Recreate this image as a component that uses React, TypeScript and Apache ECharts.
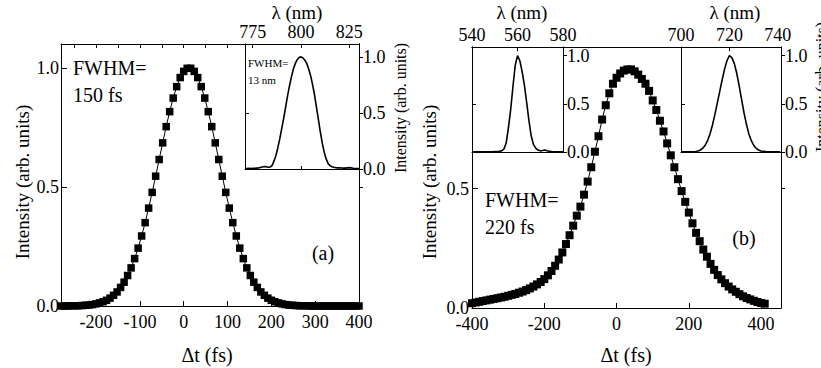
import React, { useEffect, useRef } from "react";
import * as echarts from "echarts";

const FONT = "Liberation Serif, Times New Roman, serif";
const INK = "#000";

// ---------- Panel (a): intensity autocorrelation vs delay ----------
const delayA = [
  -280, -272, -264, -256, -248, -240, -232, -224, -216, -208, -200, -192, -184, -176, -168, -160,
  -152, -144, -136, -128, -120, -112, -104, -96, -88, -80, -72, -64, -56, -48, -40, -32, -24, -16,
  -8, 0, 8, 16, 24, 32, 40, 48, 56, 64, 72, 80, 88, 96, 104, 112, 120, 128, 136, 144, 152, 160,
  168, 176, 184, 192, 200, 208, 216, 224, 232, 240, 248, 256, 264, 272, 280, 288, 296, 304, 312,
  320, 328, 336, 344, 352, 360, 368, 376, 384, 392, 400,
];
const intensityA = [
  0.0, 0.0, 0.0, 0.001, 0.001, 0.001, 0.002, 0.003, 0.004, 0.006, 0.009, 0.013, 0.018, 0.024, 0.033,
  0.045, 0.059, 0.078, 0.1, 0.128, 0.16, 0.199, 0.243, 0.294, 0.35, 0.411, 0.477, 0.545, 0.615, 0.685,
  0.753, 0.816, 0.873, 0.921, 0.959, 0.985, 0.998, 0.998, 0.985, 0.959, 0.921, 0.873, 0.816, 0.753,
  0.685, 0.615, 0.545, 0.477, 0.411, 0.35, 0.294, 0.243, 0.199, 0.16, 0.128, 0.1, 0.078, 0.059, 0.045,
  0.033, 0.024, 0.018, 0.013, 0.009, 0.006, 0.004, 0.003, 0.002, 0.001, 0.001, 0.001, 0.0, 0.0, 0.0,
  0.0, 0.0, 0.0, 0.0, 0.0, 0.0, 0.0, 0.0, 0.0, 0.0, 0.0, 0.0,
];
// inset (a): spectrum
const lambdaA = [
  771, 772, 773, 774, 775, 776, 777, 778, 779, 780, 781, 782, 783, 784, 785, 786, 787, 788, 789, 790,
  791, 792, 793, 794, 795, 796, 797, 798, 799, 800, 801, 802, 803, 804, 805, 806, 807, 808, 809, 810,
  811, 812, 813, 814, 815, 816, 817, 818, 819, 820, 821, 822, 823, 824, 825, 826, 827, 828, 829, 830,
];
const spectrumA = [
  0.005, 0.004, 0.006, 0.005, 0.007, 0.006, 0.008, 0.01, 0.014, 0.018, 0.022, 0.02, 0.016, 0.018, 0.03,
  0.07, 0.12, 0.19, 0.27, 0.36, 0.45, 0.55, 0.65, 0.74, 0.82, 0.89, 0.94, 0.975, 0.995, 1.0, 0.99, 0.97,
  0.94, 0.89, 0.83, 0.75, 0.66, 0.55, 0.44, 0.33, 0.23, 0.15, 0.09, 0.05, 0.03, 0.02, 0.015, 0.012,
  0.01, 0.01, 0.009, 0.008, 0.008, 0.01, 0.012, 0.01, 0.007, 0.005, 0.004, 0.003,
];

// ---------- Panel (b): cross-correlation vs delay ----------
const delayB = [
  -400, -390, -380, -370, -360, -350, -340, -330, -320, -310, -300, -290, -280, -270, -260, -250,
  -240, -230, -220, -210, -200, -190, -180, -170, -160, -150, -140, -130, -120, -110, -100, -90, -80,
  -70, -60, -50, -40, -30, -20, -10, 0, 10, 20, 30, 40, 50, 60, 70, 80, 90, 100, 110, 120, 130, 140,
  150, 160, 170, 180, 190, 200, 210, 220, 230, 240, 250, 260, 270, 280, 290, 300, 310, 320, 330, 340,
  350, 360, 370, 380, 390, 400, 410,
];
const intensityB = [
  0.02, 0.023, 0.026, 0.029, 0.032, 0.035, 0.038, 0.041, 0.044, 0.047, 0.051, 0.055, 0.059, 0.064,
  0.069, 0.075, 0.082, 0.09, 0.099, 0.109, 0.121, 0.137, 0.155, 0.177, 0.203, 0.233, 0.268, 0.305,
  0.345, 0.387, 0.425, 0.475, 0.53, 0.59, 0.655, 0.72, 0.79, 0.85, 0.9, 0.94, 0.965, 0.983, 0.995, 1.0,
  1.0, 0.992, 0.978, 0.96, 0.94, 0.91, 0.87, 0.83, 0.785, 0.74, 0.69, 0.64, 0.59, 0.54, 0.49, 0.445,
  0.4, 0.355, 0.315, 0.28, 0.245, 0.215, 0.185, 0.16, 0.138, 0.12, 0.104, 0.09, 0.078, 0.068, 0.058,
  0.049, 0.042, 0.036, 0.03, 0.025, 0.021, 0.018,
];
// inset (b) left: spectrum near 560 nm
const lambdaB1 = [
  540, 541, 542, 543, 544, 545, 546, 547, 548, 549, 550, 551, 552, 553, 554, 555, 556, 557, 558, 559,
  560, 561, 562, 563, 564, 565, 566, 567, 568, 569, 570, 571, 572, 573, 574, 575, 576, 577, 578, 579,
  580,
];
const spectrumB1 = [
  0.003, 0.002, 0.003, 0.002, 0.003, 0.002, 0.003, 0.002, 0.003, 0.003, 0.004, 0.005, 0.007, 0.012,
  0.03, 0.09, 0.25, 0.44, 0.68, 0.9, 1.0, 0.95, 0.84, 0.7, 0.52, 0.33, 0.17, 0.08, 0.04, 0.02, 0.012,
  0.015, 0.02, 0.012, 0.006, 0.004, 0.003, 0.003, 0.002, 0.002, 0.002,
];
// inset (b) right: spectrum near 720 nm
const lambdaB2 = [
  700, 701, 702, 703, 704, 705, 706, 707, 708, 709, 710, 711, 712, 713, 714, 715, 716, 717, 718, 719,
  720, 721, 722, 723, 724, 725, 726, 727, 728, 729, 730, 731, 732, 733, 734, 735, 736, 737, 738, 739,
  740, 741,
];
const spectrumB2 = [
  0.002, 0.002, 0.002, 0.002, 0.003, 0.003, 0.005, 0.01, 0.02, 0.04, 0.07, 0.12, 0.19, 0.28, 0.39, 0.51,
  0.63, 0.75, 0.86, 0.95, 1.0, 0.98, 0.92, 0.82, 0.69, 0.55, 0.41, 0.29, 0.19, 0.12, 0.07, 0.04, 0.02,
  0.01, 0.006, 0.004, 0.003, 0.003, 0.002, 0.002, 0.002, 0.002,
];

// tick labels
const delayTicksA = [-200, -100, 0, 100, 200, 300, 400];
const delayTicksB = [-400, -200, 0, 200, 400];
const lambdaTicksA = [775, 800, 825];
const lambdaTicksB1 = [540, 560, 580];
const lambdaTicksB2 = [700, 720, 740];
const intensityTicks = [0, 0.5, 1.0];

const zip = (xs: number[], ys: number[]) => xs.map((x, i) => [x, ys[i]]);

function mkX(
  gridIndex: number,
  position: string,
  min: number,
  max: number,
  labels: number[],
  ticks: number[],
  inside: boolean,
  len: number,
  margin = 6
) {
  return {
    type: "value",
    gridIndex,
    position,
    min,
    max,
    axisLine: { show: true, onZero: false, lineStyle: { color: INK, width: 1 } },
    axisTick: ticks.length
      ? { show: true, inside, length: len, customValues: ticks, lineStyle: { color: INK, width: 1 } }
      : { show: false },
    axisLabel: labels.length
      ? {
          show: true,
          customValues: labels,
          margin,
          color: INK,
          fontFamily: FONT,
          fontSize: 18,
          formatter: (v: number) => String(v),
        }
      : { show: false },
    splitLine: { show: false },
    minorTick: { show: false },
  };
}

function mkY(
  gridIndex: number,
  position: string,
  min: number,
  max: number,
  labels: number[],
  ticks: number[],
  inside: boolean,
  len: number,
  margin = 4
) {
  return {
    type: "value",
    gridIndex,
    position,
    min,
    max,
    axisLine: { show: true, onZero: false, lineStyle: { color: INK, width: 1 } },
    axisTick: ticks.length
      ? { show: true, inside, length: len, customValues: ticks, lineStyle: { color: INK, width: 1 } }
      : { show: false },
    axisLabel: labels.length
      ? {
          show: true,
          customValues: labels,
          margin,
          color: INK,
          fontFamily: FONT,
          fontSize: 18,
          formatter: (v: number) => Number(v).toFixed(1),
        }
      : { show: false },
    splitLine: { show: false },
    minorTick: { show: false },
  };
}

const txt = (text: string, x: number, y: number, size: number, align = "center", rot = 0) => ({
  type: "text",
  x,
  y,
  rotation: rot,
  z: 100,
  silent: true,
  style: {
    text,
    fontFamily: FONT,
    fontSize: size,
    fill: INK,
    align,
    verticalAlign: "middle",
  },
});

export default function App() {
  const ref = useRef<HTMLDivElement>(null);

  useEffect(() => {
    document.body.style.margin = "0";
    if (!ref.current) return;
    const chart = echarts.init(ref.current, null, { renderer: "svg" });
    const R = Math.PI / 2;
    chart.setOption({
      animation: false,
      backgroundColor: "#fff",
      textStyle: { fontFamily: FONT },
      grid: [
        { left: 61, top: 44, width: 298, height: 262 },
        { left: 245, top: 44, width: 114, height: 125 },
        { left: 472, top: 47, width: 309, height: 261 },
        { left: 472, top: 47, width: 91, height: 105 },
        { left: 681, top: 47, width: 100, height: 105 },
      ],
      xAxis: [
        mkX(0, "bottom", -280, 400, delayTicksA, delayTicksA, true, 5, 7),
        mkX(0, "top", -280, 400, [], [-250, -200, -150, -100, -50, 0, 50, 100], true, 4),
        mkX(1, "top", 771, 830, lambdaTicksA, lambdaTicksA, true, 4, 3),
        mkX(1, "bottom", 771, 830, [], [800], true, 3),
        mkX(2, "bottom", -400, 455, delayTicksB, [-200, 0, 200, 400], true, 5, 7),
        mkX(2, "top", -400, 455, [], [], true, 4),
        mkX(3, "top", 540, 580, lambdaTicksB1, [560], true, 4, 3),
        mkX(3, "bottom", 540, 580, [], [], true, 3),
        mkX(4, "top", 700, 741.3, lambdaTicksB2, [720], true, 4, 3),
        mkX(4, "bottom", 700, 741.3, [], [], true, 3),
      ],
      yAxis: [
        mkY(0, "left", 0, 1.1, intensityTicks, [0.5, 1.0], true, 6, 2),
        mkY(0, "right", 0, 1.1, [], [0.5], false, 4),
        mkY(1, "right", 0, 1.115, intensityTicks, intensityTicks, false, 4, 4),
        mkY(1, "left", 0, 1.115, [], [0.5], true, 4),
        mkY(2, "left", 0, 1.094, [0, 0.5], [0.5], true, 6, 3),
        mkY(2, "right", 0, 1.094, [], [0.5], false, 4),
        mkY(3, "right", 0, 1.09, intensityTicks, intensityTicks, false, 4, 4),
        mkY(3, "left", 0, 1.09, [], [0.5], true, 4),
        mkY(4, "right", 0, 1.09, intensityTicks, intensityTicks, false, 4, 4),
        mkY(4, "left", 0, 1.09, [], [0.5], true, 4),
      ],
      series: [
        {
          type: "line",
          xAxisIndex: 0,
          yAxisIndex: 0,
          data: zip(delayA, intensityA),
          symbol: "rect",
          symbolSize: 7.5,
          showSymbol: true,
          lineStyle: { color: INK, width: 1 },
          itemStyle: { color: INK },
          silent: true,
          z: 3,
        },
        {
          type: "line",
          xAxisIndex: 2,
          yAxisIndex: 2,
          data: zip(lambdaA, spectrumA),
          showSymbol: false,
          symbol: "none",
          lineStyle: { color: INK, width: 1.6 },
          silent: true,
        },
        {
          type: "line",
          xAxisIndex: 4,
          yAxisIndex: 4,
          data: zip(delayB, intensityB),
          symbol: "rect",
          symbolSize: 8,
          showSymbol: true,
          lineStyle: { color: INK, width: 1 },
          itemStyle: { color: INK },
          silent: true,
          z: 3,
        },
        {
          type: "line",
          xAxisIndex: 6,
          yAxisIndex: 6,
          data: zip(lambdaB1, spectrumB1),
          symbol: "none",
          lineStyle: { color: INK, width: 1.6 },
          silent: true,
        },
        {
          type: "line",
          xAxisIndex: 8,
          yAxisIndex: 8,
          data: zip(lambdaB2, spectrumB2),
          symbol: "none",
          lineStyle: { color: INK, width: 1.6 },
          silent: true,
        },
      ],
      graphic: [
        txt("Intensity (arb. units)", 22, 182, 19, "center", R),
        txt("Δt (fs)", 207, 355, 20),
        txt("FWHM=", 73, 68, 20, "left"),
        txt("150 fs", 73, 95, 20, "left"),
        txt("(a)", 323, 253, 20),
        txt("λ (nm)", 297, 12, 19),
        txt("FWHM=", 248, 63, 11, "left"),
        txt("13 nm", 248, 80, 11, "left"),
        txt("Intensity (arb. units)", 400, 108, 16, "center", R),
        txt("Intensity (arb. units)", 429, 182, 19, "center", R),
        txt("Δt (fs)", 626, 355, 20),
        txt("FWHM=", 485, 200, 20, "left"),
        txt("220 fs", 485, 227, 20, "left"),
        txt("(b)", 744, 238, 20),
        txt("λ (nm)", 522, 12, 19),
        txt("λ (nm)", 735, 12, 19),
        txt("Intensity (arb. units)", 821, 87, 16, "center", R),
      ],
    });
    return () => chart.dispose();
  }, []);

  return <div ref={ref} style={{ width: 821, height: 368 }} />;
}
